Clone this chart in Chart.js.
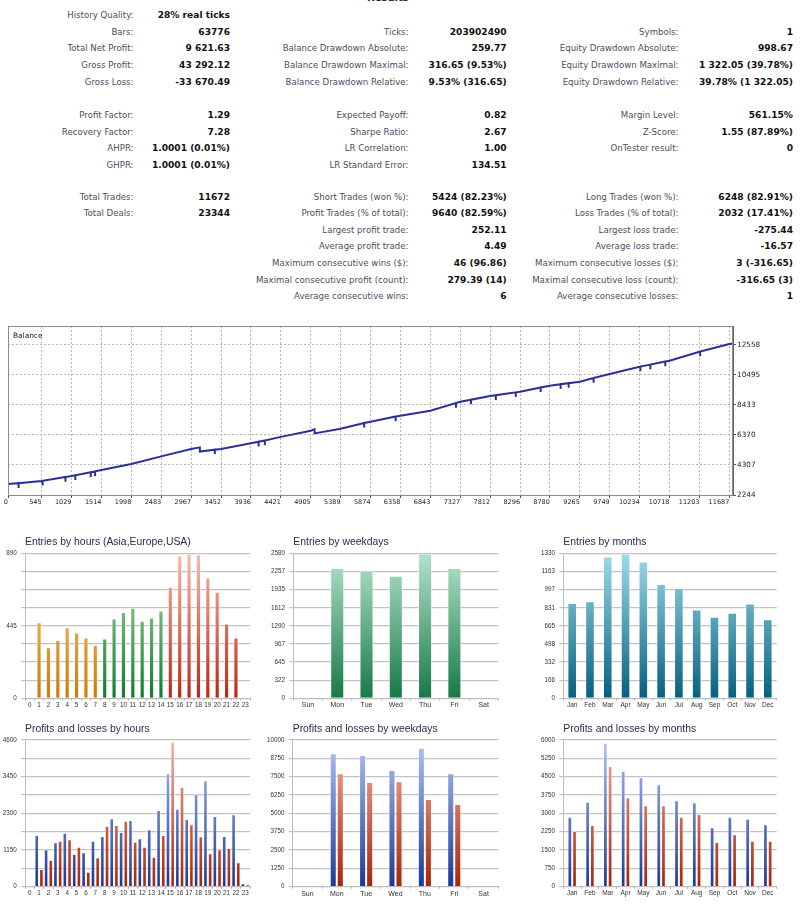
<!DOCTYPE html>
<html><head><meta charset="utf-8">
<script src="https://cdn.jsdelivr.net/npm/chart.js@4.4.1/dist/chart.umd.min.js"></script>
<style>
html,body{margin:0;padding:0;background:#fff;width:800px;height:908px;overflow:hidden;position:relative;font-family:"DejaVu Sans",sans-serif;}
.l{position:absolute;font-size:8.6px;color:#4d4d60;white-space:nowrap;transform:translate(-100%,-50%);line-height:10px;}
.v{position:absolute;font-size:9.1px;font-weight:bold;color:#111;white-space:nowrap;transform:translate(-100%,-50%);line-height:10px;}
canvas{position:absolute;}
#restitle{position:absolute;left:367px;top:-7px;font-size:10px;font-weight:bold;color:#222;line-height:10px;}
#ballbl{position:absolute;left:13px;top:331px;font-size:7.4px;color:#222;line-height:9px;}
</style></head><body>
<div id="restitle">Results</div>
<div id="stats"></div>
<canvas id="balance" width="800" height="190" style="left:0;top:320px;width:800px;height:190px"></canvas>
<div id="ballbl">Balance</div>
<canvas id="c1" width="265" height="180" style="left:0;top:530px;width:265px;height:180px"></canvas>
<canvas id="c2" width="265" height="180" style="left:265px;top:530px;width:265px;height:180px"></canvas>
<canvas id="c3" width="270" height="180" style="left:530px;top:530px;width:270px;height:180px"></canvas>
<canvas id="c4" width="265" height="188" style="left:0;top:720px;width:265px;height:188px"></canvas>
<canvas id="c5" width="265" height="188" style="left:265px;top:720px;width:265px;height:188px"></canvas>
<canvas id="c6" width="270" height="188" style="left:530px;top:720px;width:270px;height:188px"></canvas>
<script>
// ---------- report table ----------
const statRowY = [15,31.7,48.3,65,81.7,115,131.7,148.3,165,196.7,213,229.7,246.3,263,279.7,296.3];
const statCol1 = [
  ["History Quality:","28% real ticks"],["Bars:","63776"],["Total Net Profit:","9 621.63"],["Gross Profit:","43 292.12"],["Gross Loss:","-33 670.49"],
  ["Profit Factor:","1.29"],["Recovery Factor:","7.28"],["AHPR:","1.0001 (0.01%)"],["GHPR:","1.0001 (0.01%)"],
  ["Total Trades:","11672"],["Total Deals:","23344"],null,null,null,null,null];
const statCol2 = [
  null,["Ticks:","203902490"],["Balance Drawdown Absolute:","259.77"],["Balance Drawdown Maximal:","316.65 (9.53%)"],["Balance Drawdown Relative:","9.53% (316.65)"],
  ["Expected Payoff:","0.82"],["Sharpe Ratio:","2.67"],["LR Correlation:","1.00"],["LR Standard Error:","134.51"],
  ["Short Trades (won %):","5424 (82.23%)"],["Profit Trades (% of total):","9640 (82.59%)"],["Largest profit trade:","252.11"],["Average profit trade:","4.49"],
  ["Maximum consecutive wins ($):","46 (96.86)"],["Maximal consecutive profit (count):","279.39 (14)"],["Average consecutive wins:","6"]];
const statCol3 = [
  null,["Symbols:","1"],["Equity Drawdown Absolute:","998.67"],["Equity Drawdown Maximal:","1 322.05 (39.78%)"],["Equity Drawdown Relative:","39.78% (1 322.05)"],
  ["Margin Level:","561.15%"],["Z-Score:","1.55 (87.89%)"],["OnTester result:","0"],null,
  ["Long Trades (won %):","6248 (82.91%)"],["Loss Trades (% of total):","2032 (17.41%)"],["Largest loss trade:","-275.44"],["Average loss trade:","-16.57"],
  ["Maximum consecutive losses ($):","3 (-316.65)"],["Maximal consecutive loss (count):","-316.65 (3)"],["Average consecutive losses:","1"]];

// ---------- balance chart ----------
const balanceTrades = [0,170,171,172,545,560,561,562,930,931,932,1029,1090,1091,1092,1340,1341,1342,1410,1411,1412,1514,1998,2483,2967,3108,3109,3350,3351,3352,3452,3936,4060,4061,4062,4160,4161,4162,4421,4905,4966,4967,5389,5770,5771,5772,5874,6280,6281,6282,6358,6843,7257,7258,7259,7327,7500,7501,7502,7812,7903,7904,7905,8226,8227,8228,8296,8630,8631,8632,8780,8953,8954,8955,9083,9084,9085,9265,9487,9488,9489,9749,10234,10245,10246,10247,10407,10408,10409,10649,10650,10651,10718,11203,11214,11215,11216,11687,11740];
const balanceValues = [3000,3060,2730,3060,3207,3215,2890,3215,3480,3150,3480,3550,3600,3280,3600,3810,3480,3810,3870,3540,3870,3963,4376,4900,5400,5520,5230,5360,5060,5360,5400,5800,5910,5580,5910,5990,5670,5990,6240,6665,6770,6480,6800,7200,6880,7200,7284,7640,7320,7640,7700,8040,8570,8250,8570,8659,8800,8480,8800,9051,9110,8780,9110,9305,8990,9305,9347,9640,9320,9640,9760,9860,9540,9860,9930,9620,9930,10035,10280,9960,10280,10564,11066,11075,10750,11075,11210,10890,11210,11420,11100,11420,11478,12097,12105,11790,12105,12627,12650];
const balanceXTicks = [0,545,1029,1514,1998,2483,2967,3452,3936,4421,4905,5389,5874,6358,6843,7327,7812,8296,8780,9265,9749,10234,10718,11203,11687];
const balanceYTicks = [2244,4307,6370,8433,10495,12558];

// ---------- bar charts ----------
const hourLabels = ['0','1','2','3','4','5','6','7','8','9','10','11','12','13','14','15','16','17','18','19','20','21','22','23'];
const weekdayLabels = ['Sun','Mon','Tue','Wed','Thu','Fri','Sat'];
const monthLabels = ['Jan','Feb','Mar','Apr','May','Jun','Jul','Aug','Sep','Oct','Nov','Dec'];

const entriesByHour = [0,467,313,358,436,405,374,327,368,491,530,556,477,497,540,685,878,890,886,743,655,460,374,0];
const entriesByWeekday = [0,2320,2273,2184,2580,2320,0];
const entriesByMonth = [876,892,1303,1330,1257,1050,1013,816,749,785,870,727];

const profitsByHour = [0,1620,1171,1390,1694,1025,1077,1443,1589,2143,1715,2091,1516,1798,2405,3555,2446,2122,2906,3335,2216,1589,2269,105];
const lossesByHour  = [0,554,836,1443,1485,1255,470,920,1913,1934,2070,1411,1255,941,1620,4548,3136,1955,1579,1045,1171,1213,763,73];
const profitsByWeekday = [0,9091,8977,7955,9477,7727,0];
const lossesByWeekday  = [0,7727,7136,7182,5977,5636,0];
const profitsByMonth = [2864,3477,5891,4745,4473,4186,3532,3450,2427,2864,2782,2550];
const lossesByMonth  = [2277,2523,4936,3655,3327,3327,2864,2973,1827,2141,1882,1882];

const yLabelsEntriesHour    = ['0','','','','445','','','','890'];
const yLabelsEntriesWeekday = ['0','322','645','967','1290','1612','1935','2257','2580'];
const yLabelsEntriesMonth   = ['0','166','332','498','665','831','997','1163','1330'];
const yLabelsPLHour         = ['0','','1150','','2300','','3450','','4600'];
const yLabelsPLWeekday      = ['0','1250','2500','3750','5000','6250','7500','8750','10000'];
const yLabelsPLMonth        = ['0','750','1500','2250','3000','3750','4500','5250','6000'];

// ---------- build table ----------
(function(){
  const host = document.getElementById('stats');
  const labRight = [133.5, 408.5, 678.5];
  const valRight = [230, 506.7, 793];
  [statCol1, statCol2, statCol3].forEach((col, ci) => {
    col.forEach((row, ri) => {
      if (!row) return;
      const l = document.createElement('div');
      l.className = 'l'; l.textContent = row[0];
      l.style.left = labRight[ci] + 'px'; l.style.top = statRowY[ri] + 'px';
      host.appendChild(l);
      const v = document.createElement('div');
      v.className = 'v'; v.textContent = row[1];
      v.style.left = valRight[ci] + 'px'; v.style.top = statRowY[ri] + 'px';
      host.appendChild(v);
    });
  });
})();

Chart.defaults.animation = false;
Chart.defaults.font.family = 'Liberation Sans';
Chart.defaults.color = '#333';

const framePlugin = {
  id: 'frame',
  afterDraw(chart) {
    const a = chart.chartArea, c = chart.ctx;
    c.save(); c.strokeStyle = '#8c8c8c'; c.lineWidth = 1;
    c.strokeRect(a.left + 0.5, a.top + 0.5, a.right - a.left - 1, a.bottom - a.top);
    c.restore();
  }
};

new Chart(document.getElementById('balance'), {
  type: 'line',
  data: { datasets: [{
    data: balanceTrades.map((t, i) => ({ x: t, y: balanceValues[i] })),
    borderColor: '#2e3192', borderWidth: 2, pointRadius: 0, tension: 0, fill: false
  }]},
  options: {
    responsive: false, devicePixelRatio: 1,
    layout: { padding: { left: 8, top: 6, right: 0, bottom: 0 } },
    plugins: { legend: { display: false }, tooltip: { enabled: false } },
    scales: {
      x: {
        type: 'linear', min: 0, max: 11747,
        afterBuildTicks: s => { s.ticks = balanceXTicks.map(v => ({ value: v })); },
        afterFit: s => { s.height = 15; },
        ticks: { align: 'end', autoSkip: false, maxRotation: 0, padding: 0.5, color: '#222',
                 font: { size: 6.5, family: 'DejaVu Sans' }, callback: v => String(v) },
        grid: { color: '#b8b8b8', lineWidth: 1, tickLength: 3, tickColor: '#555', drawTicks: true },
        border: { display: true, color: '#666', dash: [2, 2] }
      },
      y: {
        position: 'right', min: 2244, max: 13864,
        afterBuildTicks: s => { s.ticks = balanceYTicks.map(v => ({ value: v })); },
        afterFit: s => { s.width = 67; },
        ticks: { padding: 1, color: '#222', font: { size: 7.3, family: 'DejaVu Sans' }, callback: v => String(v) },
        grid: { color: '#b8b8b8', lineWidth: 1, tickLength: 3, tickColor: '#555' },
        border: { display: true, color: '#666', dash: [2, 2] }
      }
    }
  },
  plugins: [framePlugin]
});

function gradFill(top, bottom) {
  return (c) => {
    const ch = c.chart, a = ch.chartArea;
    if (!a) return bottom;
    const g = ch.ctx.createLinearGradient(0, a.top, 0, a.bottom);
    g.addColorStop(0, top); g.addColorStop(1, bottom);
    return g;
  };
}

function makeBar(cfg) {
  const ticksLabels = cfg.yLabels;
  return new Chart(document.getElementById(cfg.id), {
    type: 'bar',
    data: { labels: cfg.labels, datasets: cfg.datasets },
    options: {
      responsive: false, devicePixelRatio: 1,
      layout: { padding: { left: 0, right: cfg.padRight, top: 0, bottom: 0 } },
      plugins: {
        legend: { display: false }, tooltip: { enabled: false },
        title: { display: true, text: cfg.title, align: 'start', fullSize: false, color: '#2d2a4c',
                 font: { size: 10.4, weight: 'normal', family: 'Liberation Sans', lineHeight: 1.2 },
                 padding: cfg.titlePad }
      },
      datasets: { bar: { categoryPercentage: cfg.catPct, barPercentage: cfg.barPct, borderWidth: 1,
                         borderColor: 'rgba(255,255,255,0.45)', borderSkipped: 'bottom' } },
      scales: {
        x: {
          afterFit: s => { s.height = cfg.xHeight; },
          ticks: { autoSkip: false, maxRotation: 0, padding: 1, color: '#333', font: { size: cfg.xFont } },
          grid: { display: true, drawOnChartArea: false, drawTicks: true, tickLength: 2, color: '#aaa' },
          border: { display: true, color: '#bdbdbd' }
        },
        y: {
          min: 0, max: cfg.yMax,
          afterBuildTicks: s => { s.ticks = ticksLabels.map((_, i) => ({ value: cfg.yMax * i / (ticksLabels.length - 1) })); },
          afterFit: s => { s.width = cfg.yWidth; },
          ticks: { padding: 4.3, color: '#333', font: { size: 6.3 }, callback: (v, i) => ticksLabels[i] },
          grid: { color: '#c3c3c3', lineWidth: 1.2, tickLength: 4, drawTicks: true },
          border: { display: true, color: '#bdbdbd' }
        }
      }
    }
  });
}

const orange = gradFill('#fcd38c', '#cf7a02');
const green  = gradFill('#b4e6b0', '#0f7a2c');
const red    = gradFill('#f9bcae', '#bd2410');

makeBar({ id: 'c1', title: 'Entries by hours (Asia,Europe,USA)', labels: hourLabels,
  datasets: [{ data: entriesByHour, backgroundColor: c => (c.dataIndex < 8 ? orange(c) : c.dataIndex < 15 ? green(c) : red(c)) }],
  yMax: 890, yLabels: yLabelsEntriesHour, yWidth: 25, padRight: 15, xHeight: 11.7,
  titlePad: { top: 6, bottom: 5 }, catPct: 1, barPct: 0.55, xFont: 6.3 });

makeBar({ id: 'c2', title: 'Entries by weekdays', labels: weekdayLabels,
  datasets: [{ data: entriesByWeekday, backgroundColor: gradFill('#b3e3cb', '#177946') }],
  yMax: 2580, yLabels: yLabelsEntriesWeekday, yWidth: 28.3, padRight: 31.7, xHeight: 11.7,
  titlePad: { top: 6, bottom: 5 }, catPct: 1, barPct: 0.48, xFont: 7 });

makeBar({ id: 'c3', title: 'Entries by months', labels: monthLabels,
  datasets: [{ data: entriesByMonth, backgroundColor: gradFill('#9ddbea', '#06607e') }],
  yMax: 1330, yLabels: yLabelsEntriesMonth, yWidth: 33.3, padRight: 23.3, xHeight: 11.7,
  titlePad: { top: 6, bottom: 5 }, catPct: 1, barPct: 0.54, xFont: 6.5 });

const blueFill = gradFill('#b4c6f2', '#1a3996');
const redFill  = gradFill('#f9b2a2', '#a8240a');

makeBar({ id: 'c4', title: 'Profits and losses by hours', labels: hourLabels,
  datasets: [{ data: profitsByHour, backgroundColor: blueFill }, { data: lossesByHour, backgroundColor: redFill }],
  yMax: 4600, yLabels: yLabelsPLHour, yWidth: 25, padRight: 15, xHeight: 21.3,
  titlePad: { top: 3, bottom: 4.5 }, catPct: 1, barPct: 0.98, xFont: 6.3 });

makeBar({ id: 'c5', title: 'Profits and losses by weekdays', labels: weekdayLabels,
  datasets: [{ data: profitsByWeekday, backgroundColor: blueFill }, { data: lossesByWeekday, backgroundColor: redFill }],
  yMax: 10000, yLabels: yLabelsPLWeekday, yWidth: 27.7, padRight: 31.7, xHeight: 21.3,
  titlePad: { top: 3, bottom: 4.5 }, catPct: 0.48, barPct: 1, xFont: 7 });

makeBar({ id: 'c6', title: 'Profits and losses by months', labels: monthLabels,
  datasets: [{ data: profitsByMonth, backgroundColor: blueFill }, { data: lossesByMonth, backgroundColor: redFill }],
  yMax: 6000, yLabels: yLabelsPLMonth, yWidth: 33.3, padRight: 23.3, xHeight: 21.3,
  titlePad: { top: 3, bottom: 4.5 }, catPct: 0.53, barPct: 1, xFont: 6.5 });
</script>
</body></html>
